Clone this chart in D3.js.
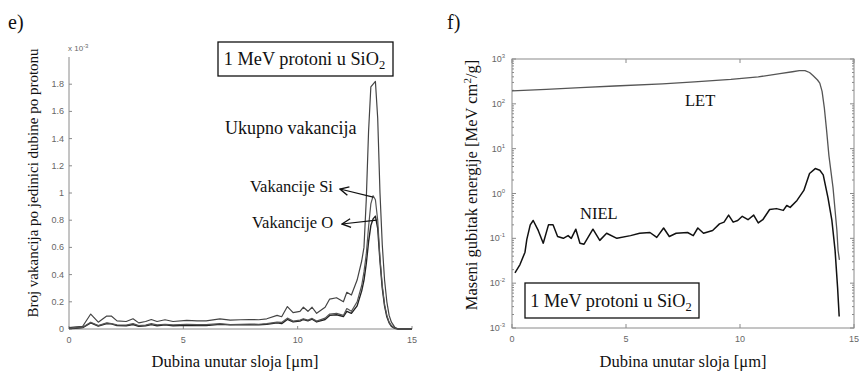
<!DOCTYPE html>
<html>
<head>
<meta charset="utf-8">
<script src="https://cdn.jsdelivr.net/npm/d3@7"></script>
<style>
  html, body { margin: 0; padding: 0; background: #fff; }
  svg { display: block; }
  .serif { font-family: "Liberation Serif", "Times New Roman", serif; fill: #111; }
  .tick-label { font-family: "Liberation Sans", Arial, sans-serif; font-size: 9px; fill: #666; }
</style>
</head>
<body>
<div id="chart"></div>
<script>
// Panel e) vacancies per unit depth per proton (x 10^-3)
var depthE = [0, 0.3, 0.6, 0.95, 1.28, 1.65, 1.85, 2.1, 2.5, 2.8, 3.05, 3.35, 3.6, 3.85, 4.2, 4.55,
  5.15, 5.6, 6.0, 6.6, 7.05, 7.5, 7.9, 8.3, 8.65, 9.1, 9.3, 9.55, 9.8, 10.1, 10.25, 10.45, 10.63,
  10.83, 11.2, 11.4, 11.7, 12.0, 12.15, 12.35, 12.6, 12.8, 12.9, 13.0, 13.1, 13.2, 13.3, 13.4, 13.5,
  13.6, 13.7, 13.8, 13.9, 14.0, 14.1, 14.25, 14.4, 14.6, 15];
var totalVac = [0.01, 0.015, 0.02, 0.11, 0.05, 0.095, 0.095, 0.06, 0.055, 0.075, 0.045, 0.055, 0.07, 0.055,
  0.068, 0.055, 0.063, 0.06, 0.06, 0.075, 0.065, 0.068, 0.07, 0.068, 0.075, 0.1, 0.09, 0.165, 0.12, 0.13,
  0.16, 0.13, 0.16, 0.115, 0.16, 0.22, 0.23, 0.2, 0.27, 0.25, 0.36, 0.5, 0.6, 0.95, 1.45, 1.78, 1.8, 1.82,
  1.55, 1.0, 0.62, 0.36, 0.2, 0.1, 0.05, 0.012, 0, 0, 0];
var siVac = [0.005, 0.008, 0.012, 0.05, 0.025, 0.045, 0.04, 0.03, 0.028, 0.04, 0.025, 0.028, 0.04, 0.03,
  0.035, 0.03, 0.035, 0.032, 0.032, 0.04, 0.032, 0.035, 0.036, 0.035, 0.04, 0.05, 0.048, 0.08, 0.058, 0.065,
  0.075, 0.065, 0.078, 0.058, 0.08, 0.11, 0.115, 0.1, 0.15, 0.13, 0.2, 0.32, 0.42, 0.55, 0.75, 0.92, 0.98,
  0.95, 0.8, 0.52, 0.32, 0.18, 0.1, 0.05, 0.025, 0.006, 0, 0, 0];
var oVac = [0.004, 0.006, 0.01, 0.045, 0.022, 0.04, 0.038, 0.025, 0.024, 0.033, 0.02, 0.024, 0.032, 0.024,
  0.03, 0.024, 0.028, 0.026, 0.026, 0.034, 0.03, 0.03, 0.032, 0.03, 0.035, 0.045, 0.04, 0.07, 0.052, 0.058,
  0.07, 0.06, 0.072, 0.052, 0.07, 0.1, 0.105, 0.092, 0.13, 0.115, 0.17, 0.28, 0.36, 0.48, 0.64, 0.76, 0.81,
  0.83, 0.74, 0.5, 0.3, 0.17, 0.09, 0.045, 0.02, 0.005, 0, 0, 0];
var ticksEx = [0, 5, 10, 15];
var ticksEy = [0, 0.2, 0.4, 0.6, 0.8, 1, 1.2, 1.4, 1.6, 1.8];

// Panel f) mass energy loss [MeV cm^2/g]
var depthLet = [0, 1.5, 3, 4.5, 6.6, 8, 9.6, 10.8, 11.75, 12.3, 12.6, 12.85, 13.05, 13.2, 13.4, 13.5,
  13.6, 13.7, 13.8, 13.9, 14.08, 14.25, 14.3, 14.36];
var letVals = [195, 210, 230, 250, 280, 310, 350, 400, 470, 520, 550, 550, 500, 430, 340, 290,
  190, 80, 25, 7, 1.35, 0.15, 0.054, 0.033];
var depthNiel = [0.13, 0.35, 0.57, 0.65, 0.8, 0.93, 1.15, 1.37, 1.6, 1.8, 2.0, 2.25, 2.46, 2.6, 2.8, 2.98,
  3.16, 3.55, 3.85, 4.15, 4.6, 5.2, 5.6, 6.05, 6.35, 6.65, 6.9, 7.2, 7.7, 7.95, 8.15, 8.4, 8.8, 9.1, 9.3,
  9.5, 9.7, 9.9, 10.1, 10.35, 10.6, 10.8, 11.0, 11.3, 11.6, 11.9, 12.05, 12.2, 12.5, 12.8, 13.05, 13.3,
  13.5, 13.65, 13.86, 14.03, 14.17, 14.28, 14.35];
var nielVals = [0.017, 0.026, 0.049, 0.095, 0.2, 0.25, 0.15, 0.078, 0.2, 0.2, 0.11, 0.1, 0.115, 0.1, 0.16,
  0.078, 0.074, 0.16, 0.09, 0.13, 0.1, 0.115, 0.13, 0.135, 0.105, 0.17, 0.11, 0.13, 0.135, 0.115, 0.17,
  0.13, 0.15, 0.21, 0.23, 0.33, 0.23, 0.25, 0.31, 0.26, 0.33, 0.22, 0.26, 0.44, 0.46, 0.42, 0.54, 0.49,
  0.7, 1.17, 2.8, 3.6, 3.3, 2.6, 0.8, 0.25, 0.054, 0.008, 0.0018];
var ticksFx = [0, 5, 10, 15];
var decadesF = [-3, -2, -1, 0, 1, 2, 3];

var W = 861, H = 374;
var axisColor = "#8a8a8a";

var svg = d3.select("#chart").append("svg")
    .attr("width", W)
    .attr("height", H);

function zip(xs, ys) {
    return xs.map(function(x, i) { return { x: x, y: ys[i] }; });
}

// ---------- Panel e) ----------
var xE = d3.scaleLinear().domain([0, 15]).range([69, 412]);
var yE = d3.scaleLinear().domain([0, 2]).range([329, 57]);

svg.append("text").attr("class", "serif")
    .attr("x", 8).attr("y", 29)
    .style("font-size", "20px").text("e)");

var gE = svg.append("g");

// axis lines (left + bottom only)
gE.append("line")
    .attr("x1", xE(0)).attr("x2", xE(0)).attr("y1", yE(0)).attr("y2", yE(2))
    .attr("stroke", axisColor);
gE.append("line")
    .attr("x1", xE(0)).attr("x2", xE(15)).attr("y1", yE(0)).attr("y2", yE(0))
    .attr("stroke", axisColor);

ticksEy.forEach(function(t) {
    gE.append("line")
        .attr("x1", xE(0)).attr("x2", xE(0) + 3)
        .attr("y1", yE(t)).attr("y2", yE(t))
        .attr("stroke", axisColor);
    gE.append("text").attr("class", "tick-label")
        .attr("x", xE(0) - 5).attr("y", yE(t) + 3)
        .attr("text-anchor", "end")
        .text(d3.format("~g")(t));
});
ticksEx.forEach(function(t) {
    gE.append("line")
        .attr("x1", xE(t)).attr("x2", xE(t))
        .attr("y1", yE(0)).attr("y2", yE(0) - 3)
        .attr("stroke", axisColor);
    gE.append("text").attr("class", "tick-label")
        .attr("x", xE(t)).attr("y", yE(0) + 14)
        .attr("text-anchor", "middle")
        .text(t);
});

// exponent note
var expE = gE.append("text").attr("class", "tick-label")
    .attr("x", xE(0) - 1).attr("y", yE(2) - 6)
    .style("font-size", "8px");
expE.append("tspan").text("x 10");
expE.append("tspan").attr("dy", -3).style("font-size", "6px").text("-3");

// curves
var lineE = d3.line()
    .x(function(d) { return xE(d.x); })
    .y(function(d) { return yE(d.y); });

gE.append("path").datum(zip(depthE, oVac))
    .attr("fill", "none").attr("stroke", "#222").attr("stroke-width", 1.4)
    .attr("stroke-linejoin", "round").attr("d", lineE);
gE.append("path").datum(zip(depthE, siVac))
    .attr("fill", "none").attr("stroke", "#555").attr("stroke-width", 1.2)
    .attr("stroke-linejoin", "round").attr("d", lineE);
gE.append("path").datum(zip(depthE, totalVac))
    .attr("fill", "none").attr("stroke", "#444").attr("stroke-width", 1.2)
    .attr("stroke-linejoin", "round").attr("d", lineE);

// y label
svg.append("text").attr("class", "serif")
    .attr("transform", "translate(38," + 183 + ") rotate(-90)")
    .attr("text-anchor", "middle")
    .style("font-size", "15px")
    .text("Broj vakancija po jedinici dubine po protonu");

// x label
svg.append("text").attr("class", "serif")
    .attr("x", 235).attr("y", 367)
    .attr("text-anchor", "middle")
    .style("font-size", "16.5px")
    .text("Dubina unutar sloja [\u03bcm]");

// title box
function titleBox(x, y, w, h) {
    svg.append("rect")
        .attr("x", x).attr("y", y).attr("width", w).attr("height", h)
        .attr("fill", "#fff").attr("stroke", "#111").attr("stroke-width", 1.3);
    var t = svg.append("text").attr("class", "serif")
        .attr("x", x + w / 2 - 1).attr("y", y + h / 2 + 6)
        .attr("text-anchor", "middle")
        .style("font-size", "18.3px");
    t.append("tspan").text("1 MeV protoni u SiO");
    t.append("tspan").attr("dy", 4).style("font-size", "12.5px").text("2");
}
titleBox(218, 42, 175, 34);

// annotations
svg.append("defs").append("marker")
    .attr("id", "arrow")
    .attr("viewBox", "0 0 10 10")
    .attr("refX", 1).attr("refY", 5)
    .attr("markerWidth", 9).attr("markerHeight", 9)
    .attr("orient", "auto")
    .append("path")
    .attr("d", "M9,1 L1,5 L9,9")
    .attr("fill", "none").attr("stroke", "#111").attr("stroke-width", 1.3);

svg.append("text").attr("class", "serif")
    .attr("x", 225).attr("y", 134)
    .style("font-size", "18px").text("Ukupno vakancija");
svg.append("text").attr("class", "serif")
    .attr("x", 250).attr("y", 192)
    .style("font-size", "16.5px").text("Vakancije Si");
svg.append("text").attr("class", "serif")
    .attr("x", 252).attr("y", 228)
    .style("font-size", "16.5px").text("Vakancije O");

svg.append("line")
    .attr("x1", 340).attr("y1", 189).attr("x2", xE(13.3)).attr("y2", yE(0.97))
    .attr("stroke", "#111").attr("stroke-width", 1.2)
    .attr("marker-start", "url(#arrow)");
svg.append("line")
    .attr("x1", 342).attr("y1", 224).attr("x2", xE(13.45)).attr("y2", yE(0.8))
    .attr("stroke", "#111").attr("stroke-width", 1.2)
    .attr("marker-start", "url(#arrow)");

// ---------- Panel f) ----------
var xF = d3.scaleLinear().domain([0, 15]).range([512, 854]);
var yF = d3.scaleLog().domain([1e-3, 1e3]).range([328, 59]);

svg.append("text").attr("class", "serif")
    .attr("x", 447).attr("y", 29)
    .style("font-size", "20px").text("f)");

var gF = svg.append("g");

gF.append("rect")
    .attr("x", xF(0)).attr("y", yF(1e3))
    .attr("width", xF(15) - xF(0)).attr("height", yF(1e-3) - yF(1e3))
    .attr("fill", "none").attr("stroke", axisColor);

decadesF.forEach(function(d) {
    var v = Math.pow(10, d);
    [xF(0), xF(15)].forEach(function(xx, side) {
        var dir = side === 0 ? 1 : -1;
        gF.append("line")
            .attr("x1", xx).attr("x2", xx + dir * 4)
            .attr("y1", yF(v)).attr("y2", yF(v))
            .attr("stroke", axisColor);
        if (d < 3) {
            for (var k = 2; k <= 9; k++) {
                gF.append("line")
                    .attr("x1", xx).attr("x2", xx + dir * 2)
                    .attr("y1", yF(k * v)).attr("y2", yF(k * v))
                    .attr("stroke", axisColor);
            }
        }
    });
    var lab = gF.append("text").attr("class", "tick-label")
        .attr("x", xF(0) - 7).attr("y", yF(v) + 3)
        .attr("text-anchor", "end");
    lab.append("tspan").text("10");
    lab.append("tspan").attr("dy", -4).style("font-size", "6px").text(d);
});

ticksFx.forEach(function(t) {
    gF.append("line")
        .attr("x1", xF(t)).attr("x2", xF(t))
        .attr("y1", yF(1e-3)).attr("y2", yF(1e-3) - 4)
        .attr("stroke", axisColor);
    gF.append("line")
        .attr("x1", xF(t)).attr("x2", xF(t))
        .attr("y1", yF(1e3)).attr("y2", yF(1e3) + 4)
        .attr("stroke", axisColor);
    gF.append("text").attr("class", "tick-label")
        .attr("x", xF(t)).attr("y", yF(1e-3) + 14)
        .attr("text-anchor", "middle")
        .text(t);
});

var lineF = d3.line()
    .x(function(d) { return xF(d.x); })
    .y(function(d) { return yF(d.y); });

gF.append("path").datum(zip(depthLet, letVals))
    .attr("fill", "none").attr("stroke", "#555").attr("stroke-width", 1.3)
    .attr("stroke-linejoin", "round").attr("d", lineF);
gF.append("path").datum(zip(depthNiel, nielVals))
    .attr("fill", "none").attr("stroke", "#111").attr("stroke-width", 1.5)
    .attr("stroke-linejoin", "round").attr("d", lineF);

svg.append("text").attr("class", "serif")
    .attr("x", 685).attr("y", 106)
    .style("font-size", "16.5px").text("LET");
svg.append("text").attr("class", "serif")
    .attr("x", 580).attr("y", 219)
    .style("font-size", "16.5px").text("NIEL");

var ylabF = svg.append("text").attr("class", "serif")
    .attr("transform", "translate(477," + 185 + ") rotate(-90)")
    .attr("text-anchor", "middle")
    .style("font-size", "16.5px");
ylabF.append("tspan").text("Maseni gubitak energije [MeV cm");
ylabF.append("tspan").attr("dy", -6).style("font-size", "11px").text("2");
ylabF.append("tspan").attr("dy", 6).text("/g]");

svg.append("text").attr("class", "serif")
    .attr("x", 683).attr("y", 367)
    .attr("text-anchor", "middle")
    .style("font-size", "16.5px")
    .text("Dubina unutar sloja [\u03bcm]");

titleBox(525, 283, 174, 35);
</script>
</body>
</html>
